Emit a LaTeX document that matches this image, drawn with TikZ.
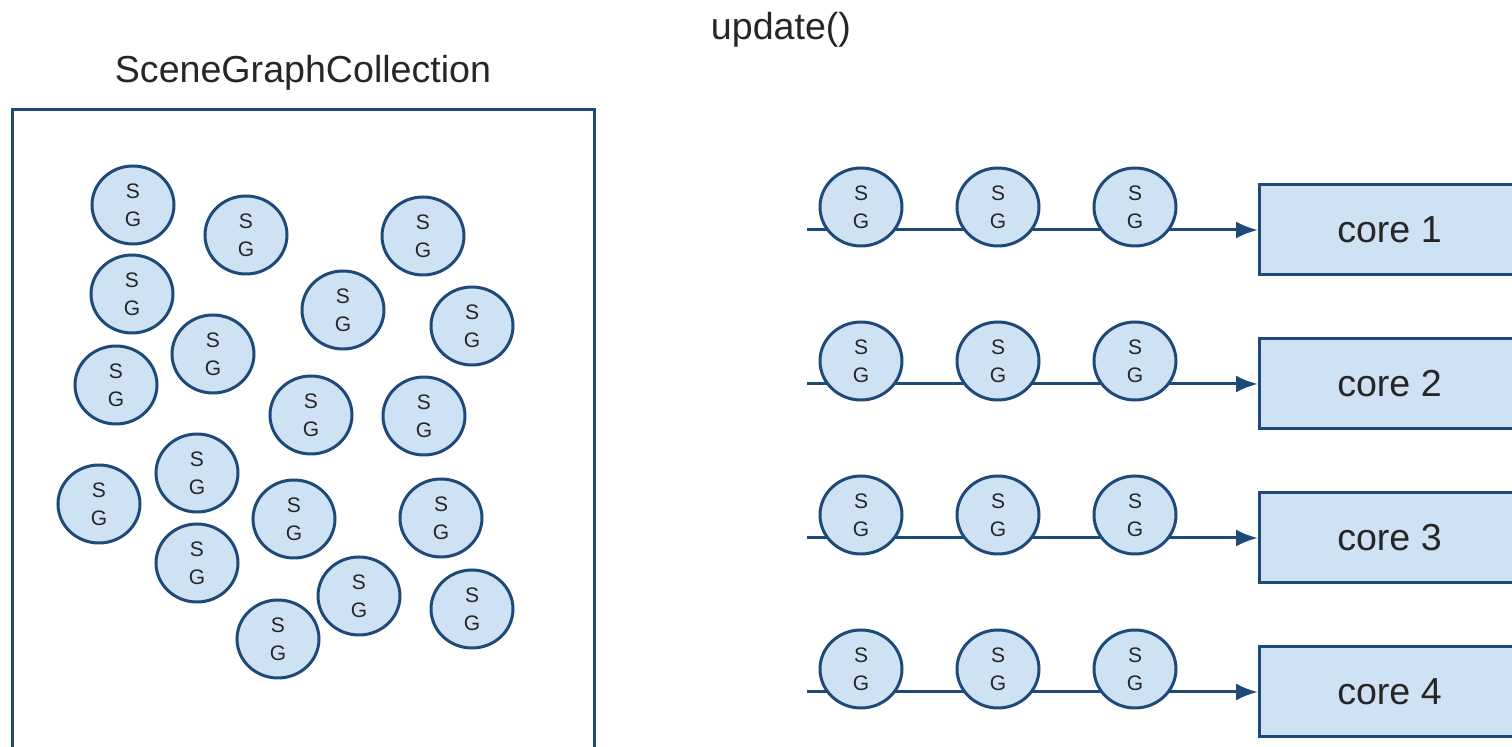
\documentclass[tikz,border=0pt]{standalone}
\usepackage{fontspec}
\setmainfont{Liberation Sans}
\usetikzlibrary{arrows.meta,shapes.geometric}
\definecolor{sgblue}{HTML}{1D4A78}
\definecolor{sglight}{HTML}{CFE2F3}
\definecolor{txt}{HTML}{262626}
\newcommand{\lblfont}{\fontsize{18.8}{22}\selectfont}
\tikzset{
  sg/.style={ellipse, draw=sgblue, fill=sglight, line width=1.5pt, minimum width=41pt,
    minimum height=39pt, inner sep=0pt, align=center, text=txt,
    font=\fontsize{10.5}{14}\selectfont},
  core/.style={draw=sgblue, fill=sglight, line width=1.5pt, anchor=west,
    minimum width=130pt, minimum height=45pt, text=txt, font=\lblfont},
  flow/.style={draw=sgblue, line width=1.5pt},
  box/.style={draw=sgblue, line width=1.5pt}
}
\begin{document}
\begin{tikzpicture}[x=0.5pt, y=-0.5pt, >={Latex[length=11pt,width=8.5pt]}]
\useasboundingbox (0,0) rectangle (1512,747);
\node[text=txt, font=\lblfont] (upd) at (781,30) {update()};
\node[text=txt, font=\lblfont] (title) at (303,73) {SceneGraphCollection};
\draw[box] (12,110) rectangle (594,760);
% scene graphs waiting in the collection
\foreach \x/\y [count=\i] in {133/205, 246/235, 423/236, 132/294, 343/310, 472/326,
    213/354, 116/385, 311/415, 424/416, 197/473, 99/504, 294/519, 441/518,
    197/563, 359/596, 472/609, 278/639}
  \node[sg] (sg\i) at (\x,\y) {S\\G};
% one queue per core
\foreach \r/\y in {1/230, 2/384, 3/538, 4/692}{
  \node[core] (core\r) at (1258,\y) {core \r};
  \coordinate (in\r) at (807,\y);
  \draw[flow,->] (in\r) -- (core\r);
  \foreach \x [count=\j] in {861,998,1135}
    \node[sg] (q\r\j) at (\x,{\y-23}) {S\\G};
}
\end{tikzpicture}
\end{document}
